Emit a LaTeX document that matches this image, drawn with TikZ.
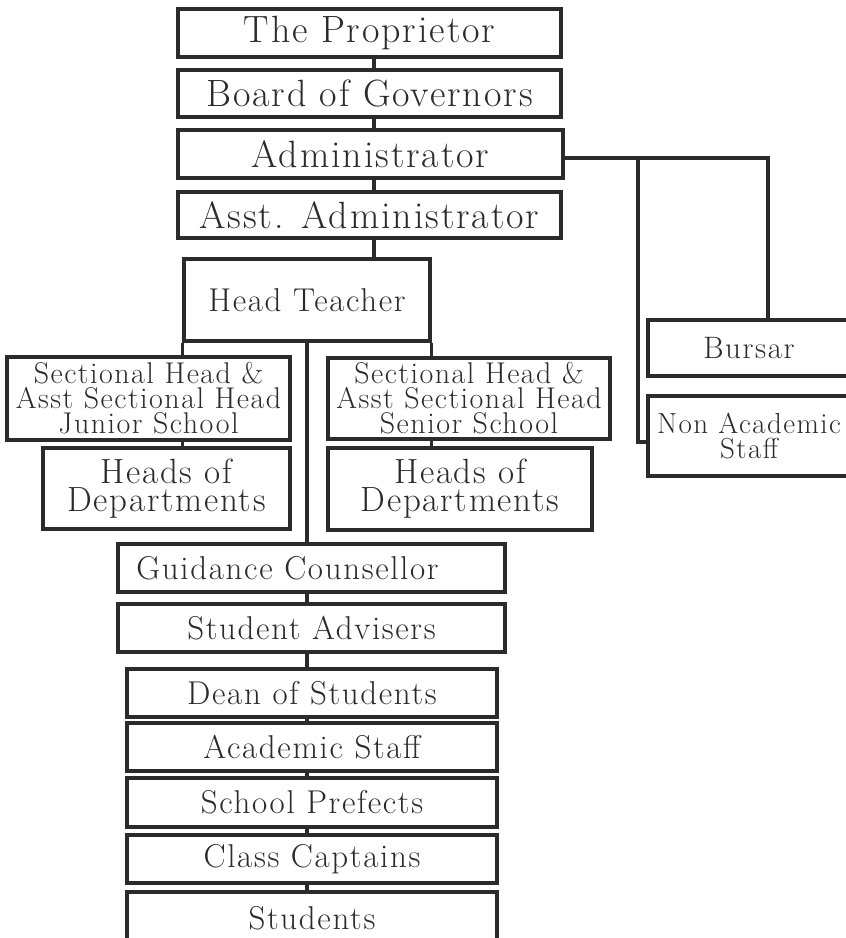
\documentclass[tikz,border=0pt]{standalone}
\usepackage{fontspec}
\setmainfont{Latin Modern Roman}[LetterSpace=5]
\usetikzlibrary{calc}
\definecolor{ink}{HTML}{2B2B2B}
\begin{document}
\begin{tikzpicture}[x=1pt,y=-1pt,
  box/.style={draw=ink, line width=3.2pt, rectangle, inner sep=0pt, text=ink, align=center},
  link/.style={draw=ink, line width=3.2pt},
  bigtxt/.style={font=\fontsize{38}{42}\selectfont},
  midtxt/.style={font=\fontsize{33}{36}\selectfont},
  sectxt/.style={font=\fontsize{30}{25}\selectfont},
  hodtxt/.style={font=\fontsize{35}{28}\selectfont},
  smalltxt/.style={font=\fontsize{31}{25}\selectfont},
  nontxt/.style={font=\fontsize{29}{25}\selectfont}]
\useasboundingbox (0,0) rectangle (846,938);
\fill[white] (0,0) rectangle (846,938);
\clip (0,0) rectangle (846,938);

% top chain
\node[box,bigtxt,minimum width=383,minimum height=48] (prop)  at (369.5,33)   {The Proprietor};
\node[box,bigtxt,minimum width=383,minimum height=47] (board) at (369.5,93.5) {Board of Governors};
\node[box,bigtxt,minimum width=385,minimum height=48] (admin) at (370.5,154)  {Administrator};
\node[box,bigtxt,minimum width=383,minimum height=46] (asst)  at (369.5,215)  {Asst. Administrator};

\node[box,midtxt,minimum width=246,minimum height=82] (head) at (307,300) {Head Teacher};

\node[box,sectxt,minimum width=283,minimum height=83] (jun) at (148.5,398.5)
  {Sectional Head \&\\Asst Sectional Head\\Junior School};
\node[box,hodtxt,minimum width=247,minimum height=81] (junhod) at (166.5,488.5)
  {Heads of\\Departments};
\node[box,sectxt,minimum width=282,minimum height=81] (sen) at (469,398.5)
  {Sectional Head \&\\Asst Sectional Head\\Senior School};
\node[box,hodtxt,minimum width=264,minimum height=82] (senhod) at (460,489)
  {Heads of\\Departments};

\node[box,smalltxt,minimum width=202,minimum height=56] (bursar) at (749,348) {Bursar};
\node[box,nontxt,minimum width=202,minimum height=80] (nonac) at (749,436)
  {Non Academic\\Staff};

% lower chain
\node[box,midtxt,minimum width=387,minimum height=48] (guid) at (311.5,568) {Guidance Counsellor\hspace*{48pt}};
\node[box,midtxt,minimum width=387,minimum height=48] (adv)  at (311.5,628) {Student Advisers};
\node[box,midtxt,minimum width=370,minimum height=48] (dean) at (312,693)   {Dean of Students};
\node[box,midtxt,minimum width=370,minimum height=48] (acad) at (312,747)   {Academic Staff};
\node[box,midtxt,minimum width=370,minimum height=49] (pref) at (312,802.5) {School Prefects};
\node[box,midtxt,minimum width=370,minimum height=48] (capt) at (312,859)   {Class Captains};
\node[box,midtxt,minimum width=370,minimum height=58] (stud) at (312,921)   {\raisebox{6pt}{Students}};

% connectors
\coordinate (spine) at (374,0);
\coordinate (mid) at (307,0);
\coordinate (br) at (768,158);
\coordinate (nb) at (638,442);

\draw[link] (prop.south -| spine) -- (board.north -| spine);
\draw[link] (board.south -| spine) -- (admin.north -| spine);
\draw[link] (admin.south -| spine) -- (asst.north -| spine);
\draw[link] (asst.south -| spine) -- (head.north -| spine);

\draw[link] (head.south west) -- (head.south west |- jun.north);
\draw[link] (head.south east) -- (head.south east |- sen.north);
\draw[link] (jun.south -| head.south west) -- (junhod.north -| head.south west);
\draw[link] (sen.south -| head.south east) -- (senhod.north -| head.south east);

\draw[link] (head.south -| mid) -- (guid.north -| mid);
\draw[link] (guid.south -| mid) -- (adv.north -| mid);
\draw[link] (adv.south -| mid) -- (dean.north -| mid);
\draw[link] (dean.south -| mid) -- (acad.north -| mid);
\draw[link] (acad.south -| mid) -- (pref.north -| mid);
\draw[link] (pref.south -| mid) -- (capt.north -| mid);
\draw[link] (capt.south -| mid) -- (stud.north -| mid);

\draw[link] (admin.east |- br) -- (br) -- (br |- bursar.north);
\draw[link] (nb |- br) -- (nb) -- (nb -| nonac.west);
\end{tikzpicture}
\end{document}
